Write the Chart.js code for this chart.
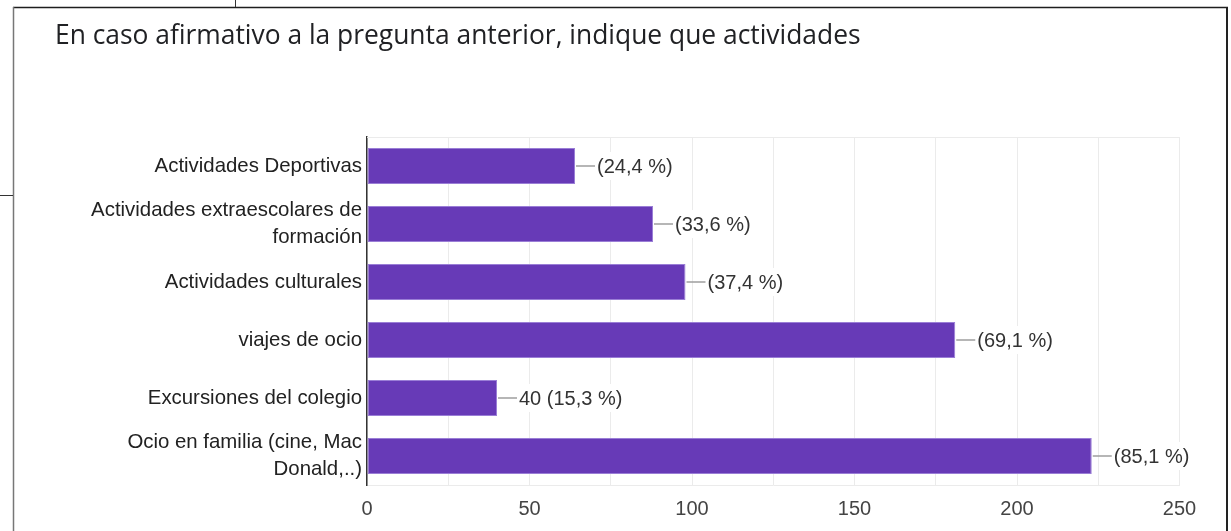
<!DOCTYPE html>
<html>
<head>
<meta charset="utf-8">
<script src="https://cdn.jsdelivr.net/npm/chart.js@4"></script>
<style>
  html, body { margin: 0; padding: 0; background: #fff; }
  #wrap { width: 1231px; height: 531px; position: relative; }
</style>
</head>
<body>
<div id="wrap"><canvas id="c" width="1231" height="531"></canvas></div>
<script>
const title = 'En caso afirmativo a la pregunta anterior, indique que actividades';
const categories = [
  'Actividades Deportivas',
  ['Actividades extraescolares de', 'formación'],
  'Actividades culturales',
  'viajes de ocio',
  'Excursiones del colegio',
  ['Ocio en familia (cine, Mac', 'Donald,..)']
];
const counts = [64, 88, 98, 181, 40, 223];
const valueLabels = ['(24,4 %)', '(33,6 %)', '(37,4 %)', '(69,1 %)', '40 (15,3 %)', '(85,1 %)'];
const xMin = 0, xMax = 250, xStep = 25, xLabelStep = 50;

const FONT = '"Liberation Sans", Arial, sans-serif';
const TITLE_FONT = '"Open Sans", Roboto, sans-serif';

const decor = {
  id: 'decor',
  afterDraw(chart) {
    const ctx = chart.ctx;
    const ca = chart.chartArea;
    ctx.save();
    // title, sized to span the same width as the original
    ctx.fillStyle = '#202124';
    ctx.font = '400 24px ' + TITLE_FONT;
    const w0 = ctx.measureText(title).width;
    const size = Math.min(27, 24 * 806 / w0);
    ctx.font = '400 ' + size.toFixed(2) + 'px ' + TITLE_FONT;
    ctx.textBaseline = 'alphabetic';
    ctx.textAlign = 'left';
    ctx.fillText(title, 55, 43.5);
    // top gridline of plot
    ctx.strokeStyle = '#ebebeb';
    ctx.lineWidth = 1;
    ctx.beginPath();
    ctx.moveTo(ca.left, Math.round(ca.top) + 0.5);
    ctx.lineTo(ca.right, Math.round(ca.top) + 0.5);
    ctx.stroke();
    // frame
    ctx.strokeStyle = '#1e1e1e';
    ctx.lineWidth = 1.5;
    ctx.beginPath();
    ctx.moveTo(13, 7.5); ctx.lineTo(1228, 7.5);
    ctx.stroke();
    ctx.strokeStyle = '#777';
    ctx.lineWidth = 1.5;
    ctx.beginPath();
    ctx.moveTo(13.5, 7); ctx.lineTo(13.5, 531);
    ctx.stroke();
    ctx.strokeStyle = '#222';
    ctx.lineWidth = 2;
    ctx.beginPath();
    ctx.moveTo(1227, 7); ctx.lineTo(1227, 531);
    ctx.stroke();
    // stray edge lines
    ctx.strokeStyle = '#333';
    ctx.lineWidth = 1;
    ctx.beginPath();
    ctx.moveTo(235.5, 0); ctx.lineTo(235.5, 7);
    ctx.moveTo(0, 195.5); ctx.lineTo(13, 195.5);
    ctx.stroke();
    ctx.restore();
  },
  afterDatasetsDraw(chart) {
    const ctx = chart.ctx;
    const meta = chart.getDatasetMeta(0);
    ctx.save();
    ctx.font = '20px ' + FONT;
    ctx.textBaseline = 'middle';
    ctx.textAlign = 'left';
    meta.data.forEach((bar, i) => {
      const xEnd = bar.x;
      const y = bar.y;
      ctx.strokeStyle = '#9e9e9e';
      ctx.lineWidth = 1.5;
      ctx.beginPath();
      ctx.moveTo(xEnd + 1, y);
      ctx.lineTo(xEnd + 20, y);
      ctx.stroke();
      const txt = valueLabels[i];
      const w = ctx.measureText(txt).width;
      const tx = xEnd + 22;
      ctx.fillStyle = '#fff';
      ctx.fillRect(tx - 1, y - 14, w + 3, 28);
      ctx.fillStyle = '#333';
      ctx.fillText(txt, tx, y + 1);
    });
    ctx.restore();
  }
};

new Chart(document.getElementById('c'), {
  type: 'bar',
  data: {
    labels: categories,
    datasets: [{
      data: counts,
      backgroundColor: '#673ab7',
      borderColor: '#9a7ed6',
      borderWidth: 1,
      borderSkipped: false,
      barPercentage: 0.62,
      categoryPercentage: 1.0
    }]
  },
  options: {
    indexAxis: 'y',
    responsive: false,
    animation: false,
    devicePixelRatio: 1,
    layout: { padding: { left: 0, right: 51.5, top: 137, bottom: 0 } },
    plugins: { legend: { display: false }, tooltip: { enabled: false }, title: { display: false } },
    scales: {
      x: {
        type: 'linear',
        min: xMin, max: xMax,
        afterFit(s) { s.height = 46; },
        ticks: {
          stepSize: xStep,
          autoSkip: false,
          maxRotation: 0,
          padding: 12,
          color: '#444',
          font: { family: FONT, size: 20 },
          callback: (v) => (v % xLabelStep === 0 ? String(v) : '')
        },
        grid: { color: '#ebebeb', lineWidth: 1, drawTicks: false },
        border: { display: true, color: '#ebebeb', width: 1 }
      },
      y: {
        afterFit(s) { s.width = 367; },
        ticks: {
          color: '#222',
          padding: 5,
          font: { family: FONT, size: 20.4, lineHeight: 1.3 }
        },
        grid: { display: false, drawTicks: false },
        border: { display: true, color: '#333', width: 1.5 }
      }
    }
  },
  plugins: [decor]
});
</script>
</body>
</html>
